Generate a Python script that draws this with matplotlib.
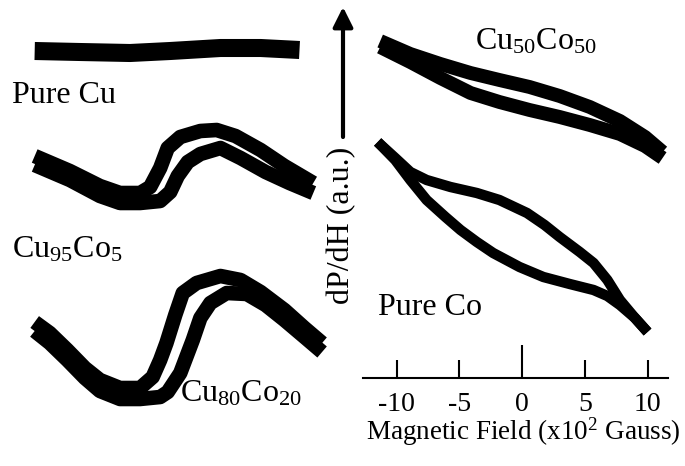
import matplotlib
matplotlib.use("Agg")
import matplotlib.pyplot as plt

plt.rcParams['font.family'] = ['Liberation Serif', 'DejaVu Serif']
plt.rcParams['mathtext.fontset'] = 'custom'
plt.rcParams['mathtext.rm'] = 'Liberation Serif'
plt.rcParams['mathtext.it'] = 'Liberation Serif:italic'
plt.rcParams['mathtext.bf'] = 'Liberation Serif:bold'

# ---------------- data (field in x10^2 Gauss, signal in a.u. incl. stacking offset) ----
# Left column
cu_field = [-11.1, -7.5, -3.5, -0.3, 3.7, 6.9, 10.0]
cu_signal = [36.9, 36.8, 36.7, 36.9, 37.2, 37.2, 37.0]

cu95_field_a = [-11.1, -8.3, -5.9, -4.3, -2.7, -1.9, -1.1, -0.5, 0.5, 2.1, 3.4, 4.9, 6.9, 8.8, 11.1]
cu95_sig_a = [26.4, 24.9, 23.4, 22.7, 22.7, 23.3, 25.2, 27.2, 28.3, 28.9, 29.0, 28.4, 27.0, 25.4, 23.7]
cu95_field_b = [-11.1, -8.3, -5.9, -4.3, -2.7, -1.1, -0.3, 0.3, 1.1, 2.1, 3.7, 5.3, 7.3, 9.2, 11.1]
cu95_sig_b = [25.5, 24.0, 22.4, 21.7, 21.7, 21.9, 22.8, 24.4, 25.8, 26.6, 27.2, 26.2, 24.8, 23.7, 22.7]

cu80_field_a = [-11.1, -9.9, -8.5, -7.1, -5.9, -4.3, -2.7, -1.7, -1.1, -0.6, 0.1, 0.7, 1.8, 3.7, 5.3, 6.9, 8.8, 10.4, 11.8]
cu80_sig_a = [9.8, 8.7, 7.0, 5.2, 4.0, 3.2, 3.2, 4.3, 6.0, 7.7, 10.5, 12.7, 13.7, 14.4, 14.0, 12.8, 11.0, 9.2, 7.7]
cu80_field_b = [-11.1, -9.9, -8.5, -7.1, -5.9, -4.3, -2.7, -1.1, -0.5, 0.5, 1.5, 2.1, 2.9, 4.2, 5.8, 7.3, 8.8, 10.4, 11.8]
cu80_sig_b = [8.9, 7.7, 6.0, 4.2, 2.9, 2.1, 2.1, 2.3, 2.8, 4.7, 8.0, 10.2, 11.7, 12.7, 12.6, 11.5, 10.0, 8.3, 6.8]

# Right column
cu50_field = [-11.3, -8.9, -6.5, -4.1, -1.8, 0.6, 3.0, 5.4, 7.8, 9.8, 11.2]
cu50_sig_a = [33.7, 32.4, 31.4, 30.5, 29.8, 29.1, 28.2, 27.1, 25.7, 24.1, 22.6]
cu50_sig_b = [33.1, 31.6, 30.0, 28.5, 27.6, 26.8, 26.1, 25.3, 24.4, 23.2, 22.0]

co_field_a = [-11.5, -10.1, -8.9, -7.6, -5.7, -3.6, -1.8, 0.4, 1.8, 3.0, 4.6, 5.7, 6.8, 7.8, 9.0, 10.0]
co_sig_a = [23.6, 22.0, 20.6, 19.8, 19.1, 18.5, 17.8, 16.5, 15.3, 14.1, 12.6, 11.5, 9.8, 7.8, 6.0, 4.6]
co_field_b = [-11.5, -10.1, -8.9, -7.6, -6.1, -4.9, -3.6, -2.3, -0.2, 1.7, 3.8, 5.7, 6.8, 7.8, 9.0, 10.0]
co_sig_b = [23.6, 21.8, 19.8, 17.8, 16.1, 14.8, 13.6, 12.5, 11.1, 10.1, 9.4, 8.8, 8.2, 7.3, 6.0, 4.6]

tick_values = [-10, -5, 0, 5, 10]
tick_labels = ['-10', '-5', '0', '5', '10']

sample_labels = ['Pure Cu', r'Cu$_{\mathrm{95}}$Co$_{\mathrm{5}}$', r'Cu$_{\mathrm{80}}$Co$_{\mathrm{20}}$',
                 r'Cu$_{\mathrm{50}}$Co$_{\mathrm{50}}$', 'Pure Co']
y_label = 'dP/dH (a.u.)'
x_label = r'Magnetic Field (x10$^{2}$ Gauss)'

# ---------------- figure ----------------
W, H = 685, 466
fig = plt.figure(figsize=(W / 100, H / 100), dpi=100)

def box(x0, y0, x1, y1):
    return [x0 / W, 1 - y1 / H, (x1 - x0) / W, (y1 - y0) / H]

lkw = dict(color='black', solid_joinstyle='round', solid_capstyle='butt')

# left traces
axl = fig.add_axes(box(20, 10, 330, 420))
axl.set_xlim(-12.27, 12.43)
axl.set_ylim(0, 41)
axl.axis('off')
axl.plot(cu_field, cu_signal, lw=13, **lkw)
axl.plot(cu95_field_a, cu95_sig_a, lw=10.5, **lkw)
axl.plot(cu95_field_b, cu95_sig_b, lw=10.5, **lkw)
axl.plot(cu80_field_a, cu80_sig_a, lw=10.5, **lkw)
axl.plot(cu80_field_b, cu80_sig_b, lw=10.5, **lkw)

# right traces with axis
axr = fig.add_axes(box(363, 10, 668, 378))
axr.patch.set_alpha(0)
axr.set_xlim(-12.67, 11.63)
axr.set_ylim(0, 36.8)
axr.plot(cu50_field, cu50_sig_a, lw=10, **lkw)
axr.plot(cu50_field, cu50_sig_b, lw=10, **lkw)
axr.plot(co_field_a, co_sig_a, lw=7.5, **lkw)
axr.plot(co_field_b, co_sig_b, lw=7.5, **lkw)
for s in ['top', 'left', 'right']:
    axr.spines[s].set_visible(False)
axr.spines['bottom'].set_linewidth(1.5)
axr.set_yticks([])
axr.set_xticks(tick_values)
axr.set_xticklabels(tick_labels)
axr.tick_params(axis='x', direction='in', length=13, width=1.5, labelsize=20, pad=10)
axr.xaxis.get_major_ticks()[2].tick1line.set_markersize(24)

# labels
tk = dict(fontsize=23, va='baseline', ha='left')
fig.text(12 / W, 1 - 103 / H, sample_labels[0], **tk)
fig.text(12 / W, 1 - 257 / H, sample_labels[1], **tk)
fig.text(180 / W, 1 - 402 / H, sample_labels[2], **tk)
fig.text(475 / W, 1 - 49 / H, sample_labels[3], **tk)
fig.text(378 / W, 1 - 315 / H, sample_labels[4], **tk)

fig.text(342 / W, 1 - 225 / H, y_label, rotation=90, fontsize=23, ha='center', va='center')
fig.text(523 / W, 1 - 440 / H, x_label, fontsize=19.5, ha='center', va='baseline')

fig.add_artist(matplotlib.patches.FancyArrowPatch(
    (343 / W, 1 - 137 / H), (343 / W, 1 - 7 / H), transform=fig.transFigure,
    arrowstyle='-|>,head_length=0.6,head_width=0.3', mutation_scale=20,
    lw=3, color='black', shrinkA=0, shrinkB=0))

fig.savefig('out.png', dpi=100)
